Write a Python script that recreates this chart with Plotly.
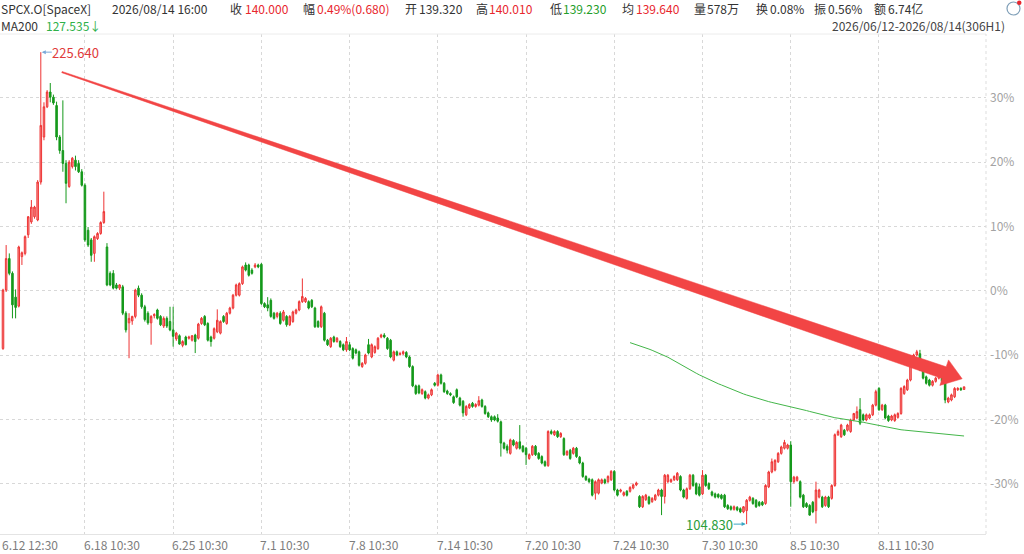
import math
import numpy as np
import pandas as pd
import plotly.graph_objects as go

# price that the right hand axis calls 0%
base_price = 164.6

opens = [
    -9.0, 0.1, 5.0, 2.7, -1.0, -2.4, 5.3, 5.8, 8.7, 10.7,
    11.5, 11.0, 16.9, 23.9, 28.6, 30.9, 30.1, 28.8, 23.9, 21.8,
    19.8, 16.2, 19.3, 20.3, 19.8, 18.5, 16.4, 9.4, 7.9, 5.8,
    8.1, 8.9, 10.6, 6.8, 2.7, 2.7, 0.9, 0.4, 0.6, -3.5,
    -5.0, -4.7, -4.0, 0.4, -0.7, -2.5, -3.5, -5.0, -3.9, -3.0,
    -4.0, -5.5, -4.3, -4.8, -6.1, -7.5, -7.0, -8.5, -7.2, -7.4,
    -7.7, -6.9, -7.4, -5.1, -4.0, -5.1, -7.2, -7.4, -6.4, -6.6,
    -4.0, -5.1, -3.5, -2.7, -0.7, -0.7, 1.1, 4.0, 4.0, 3.2,
    3.7, 4.0, 4.1, -2.0, -2.2, -1.5, -3.5, -4.0, -3.5, -4.6,
    -4.0, -5.3, -4.8, -3.5, -3.0, -1.7, -1.7, -1.7, -1.5, -2.7,
    -4.8, -5.6, -3.5, -7.7, -8.7, -7.2, -7.9, -7.9, -8.4, -9.2,
    -8.4, -9.0, -9.2, -9.5, -11.8, -11.3, -8.4, -10.3, -9.6, -9.0,
    -7.2, -6.9, -7.4, -7.7, -10.8, -9.5, -9.9, -9.8, -9.6, -10.3,
    -11.8, -14.8, -14.8, -16.0, -15.7, -16.7, -16.2, -14.4, -14.7, -13.1,
    -14.4, -15.6, -16.0, -16.5, -15.4, -16.7, -17.2, -19.3, -18.2, -17.5,
    -18.0, -17.8, -17.0, -18.0, -19.0, -19.6, -19.6, -19.8, -20.4, -23.7,
    -24.2, -25.3, -23.3, -24.5, -23.5, -24.2, -24.5, -26.1, -25.5, -24.2,
    -25.3, -25.8, -26.6, -27.2, -21.9, -22.4, -21.9, -22.7, -23.0, -25.5,
    -24.8, -25.3, -24.5, -25.9, -26.8, -28.9, -29.3, -29.4, -31.5, -31.5,
    -29.9, -29.4, -29.7, -29.4, -28.1, -31.0, -31.2, -31.8, -31.2, -31.2,
    -30.7, -30.2, -32.0, -33.6, -32.5, -32.1, -32.8, -32.5, -31.8, -31.0,
    -32.0, -29.7, -29.7, -29.4, -29.4, -28.9, -31.0, -32.3, -30.8, -28.7,
    -30.0, -30.5, -31.6, -28.7, -30.0, -31.3, -31.6, -31.7, -31.8, -31.8,
    -33.4, -33.6, -34.0, -33.7, -33.9, -34.4, -34.2, -32.6, -32.3, -32.6,
    -32.9, -32.9, -33.1, -30.5, -28.2, -27.9, -26.6, -25.3, -24.5, -24.5,
    -24.0, -29.7, -29.5, -29.7, -31.8, -33.1, -33.4, -32.9, -34.2, -32.1,
    -32.1, -33.4, -32.1, -32.3, -30.3, -22.4, -22.7, -21.7, -21.7, -21.9,
    -20.1, -19.8, -18.5, -19.3, -20.1, -19.8, -19.3, -17.8, -15.2, -18.5,
    -17.8, -19.5, -20.1, -20.2, -19.7, -19.1, -16.0, -15.4, -13.9, -11.3,
    -10.0, -9.8, -12.3, -13.4, -13.9, -14.7, -14.1, -13.6, -12.8, -14.1,
    -17.3, -17.0, -16.5, -15.4, -15.2, -15.36,
]
highs = [
    0.3, 7.1, 5.8, 3.0, 0.2, 7.0, 6.1, 8.6, 11.6, 14.1,
    13.2, 17.2, 37.1, 29.3, 31.2, 32.3, 30.5, 29.4, 24.2, 29.6,
    20.3, 20.3, 20.8, 21.0, 20.3, 18.9, 16.7, 9.9, 8.2, 8.6,
    9.1, 10.8, 15.4, 7.4, 3.0, 3.2, 1.2, 1.0, 0.9, -3.2,
    -3.5, -3.9, 0.3, 0.8, -0.4, -2.2, -3.2, -3.8, -3.5, -2.8,
    -3.8, -4.0, -4.0, -2.5, -2.5, -6.4, -6.8, -7.7, -7.0, -7.0,
    -6.9, -6.7, -5.0, -4.1, -3.8, -4.9, -7.0, -5.7, -2.9, -4.6,
    -3.8, -3.3, -2.5, -0.5, 1.1, 1.3, 3.9, 4.4, 4.2, 3.5,
    4.3, 4.2, 4.3, -1.8, -1.0, -1.2, -3.3, -3.3, -3.2, -3.0,
    -3.8, -3.8, -3.1, -2.8, -1.5, 1.9, -1.0, -1.5, -1.3, -2.5,
    -4.6, -2.3, -3.3, -7.5, -7.2, -7.0, -7.2, -7.7, -8.2, -7.2,
    -8.0, -8.8, -9.0, -9.3, -11.1, -9.8, -7.5, -8.2, -8.5, -7.2,
    -6.7, -6.6, -7.2, -7.5, -9.3, -9.3, -9.5, -9.3, -9.4, -10.1,
    -11.6, -14.6, -14.6, -15.2, -15.5, -16.0, -15.2, -14.2, -12.9, -12.9,
    -14.2, -15.4, -15.8, -16.3, -15.2, -16.5, -17.0, -17.8, -17.5, -17.3,
    -17.5, -16.4, -16.8, -17.8, -18.8, -19.4, -19.4, -19.2, -20.2, -23.5,
    -23.9, -23.0, -23.1, -23.4, -20.9, -24.0, -24.3, -25.3, -24.0, -24.0,
    -25.1, -25.6, -26.4, -21.7, -21.6, -21.7, -21.7, -22.0, -22.8, -24.8,
    -24.6, -24.3, -24.3, -25.7, -26.6, -28.7, -29.1, -29.2, -29.5, -29.2,
    -29.2, -29.2, -28.7, -27.9, -27.9, -30.8, -30.8, -31.2, -31.0, -30.4,
    -30.0, -29.7, -31.8, -31.8, -31.6, -31.9, -32.1, -31.6, -30.8, -30.8,
    -28.5, -28.5, -29.2, -28.7, -28.2, -28.7, -30.8, -30.6, -28.5, -28.5,
    -29.8, -30.0, -27.9, -28.5, -29.8, -31.1, -31.4, -31.5, -31.6, -31.6,
    -33.2, -33.4, -33.4, -33.5, -33.7, -33.5, -32.4, -31.9, -32.1, -32.4,
    -32.7, -32.7, -30.1, -28.0, -26.1, -26.2, -25.1, -24.1, -23.2, -23.8,
    -23.4, -28.8, -28.8, -29.5, -31.6, -32.9, -33.2, -32.7, -29.7, -30.8,
    -31.9, -31.9, -31.9, -30.1, -22.2, -21.6, -20.7, -21.5, -20.7, -19.9,
    -19.0, -18.0, -16.7, -19.1, -19.1, -19.1, -17.6, -15.4, -15.0, -17.6,
    -17.6, -19.3, -19.3, -19.1, -18.9, -15.0, -14.7, -13.7, -11.1, -9.8,
    -9.2, -9.2, -12.1, -13.2, -13.7, -13.9, -13.4, -12.6, -12.6, -13.9,
    -16.5, -16.0, -15.0, -15.0, -15.0, -14.94,
]
lows = [
    -9.2, -0.2, 2.4, -4.3, -4.3, -2.6, 4.0, 5.5, 8.2, 10.4,
    11.2, 10.8, 16.5, 23.4, 28.4, 29.3, 28.9, 23.4, 21.3, 18.5,
    13.6, 16.0, 19.0, 18.7, 18.3, 16.2, 7.6, 6.8, 4.5, 4.5,
    7.9, 8.7, 10.4, 0.7, 0.7, 0.2, 0.2, 0.1, -3.8, -6.5,
    -10.5, -5.3, -4.3, -1.0, -2.8, -4.8, -5.3, -8.4, -4.3, -4.5,
    -5.5, -5.8, -5.8, -6.3, -8.7, -7.8, -8.4, -8.8, -8.5, -7.6,
    -7.9, -9.7, -7.6, -5.3, -5.5, -7.9, -8.7, -7.6, -6.6, -6.8,
    -5.0, -5.3, -3.7, -2.9, -0.9, -0.9, 0.9, 3.0, 2.2, 2.5,
    3.5, 3.5, -2.2, -2.7, -3.2, -4.2, -4.5, -4.3, -5.3, -4.8,
    -5.6, -5.5, -5.0, -3.7, -3.2, -1.9, -1.9, -2.9, -2.7, -5.8,
    -5.8, -5.8, -7.9, -8.6, -8.9, -8.1, -8.1, -8.9, -9.4, -9.5,
    -9.4, -10.7, -9.9, -11.8, -12.0, -11.5, -9.9, -10.5, -9.8, -9.2,
    -7.4, -7.4, -9.2, -10.5, -11.0, -10.2, -10.1, -10.0, -10.5, -12.0,
    -15.0, -16.2, -16.1, -16.2, -16.9, -16.9, -16.4, -14.9, -14.9, -14.6,
    -15.9, -16.2, -16.4, -17.6, -16.7, -18.0, -19.6, -19.5, -18.4, -18.2,
    -18.2, -18.0, -18.2, -19.3, -19.8, -20.4, -20.3, -20.5, -25.8, -24.7,
    -25.3, -25.5, -24.2, -24.7, -24.7, -25.2, -27.1, -26.3, -25.7, -25.7,
    -26.3, -27.0, -27.4, -27.4, -22.4, -22.6, -22.9, -22.9, -25.7, -25.7,
    -26.3, -25.5, -26.0, -27.0, -29.1, -29.6, -29.9, -32.0, -32.5, -31.7,
    -30.1, -30.1, -29.9, -29.6, -31.2, -32.0, -31.4, -32.0, -32.0, -31.4,
    -30.9, -30.4, -33.8, -33.8, -32.7, -33.3, -33.0, -32.7, -32.0, -34.9,
    -33.1, -29.9, -29.9, -29.6, -29.6, -31.2, -32.3, -32.5, -31.0, -30.5,
    -31.8, -32.0, -31.8, -30.5, -31.0, -32.0, -32.3, -32.3, -32.5, -33.8,
    -34.1, -34.2, -34.2, -34.3, -34.6, -34.6, -36.3, -32.8, -33.3, -33.8,
    -33.6, -33.5, -33.3, -30.7, -28.4, -28.1, -26.8, -25.5, -24.7, -24.7,
    -33.6, -30.0, -29.7, -32.3, -33.8, -33.8, -35.0, -34.6, -36.2, -32.3,
    -33.8, -33.6, -33.8, -32.5, -30.5, -22.6, -22.9, -22.6, -21.9, -22.1,
    -20.3, -20.0, -20.9, -20.3, -20.3, -20.0, -19.5, -18.0, -18.7, -18.7,
    -20.0, -20.4, -20.3, -20.4, -19.9, -19.3, -16.2, -15.6, -14.1, -11.5,
    -10.2, -12.5, -13.8, -14.6, -14.9, -14.9, -14.3, -13.8, -14.3, -17.5,
    -17.5, -17.2, -16.7, -15.6, -15.6, -15.41,
]
closes = [
    0.1, 5.0, 2.7, -2.2, -2.6, 6.8, 5.9, 8.4, 11.5, 13.0,
    13.0, 16.9, 25.7, 28.6, 30.9, 30.1, 29.2, 23.9, 21.8, 19.8,
    16.7, 20.0, 20.6, 19.3, 18.5, 16.4, 7.9, 7.1, 5.5, 8.4,
    8.9, 10.6, 12.3, 0.9, 0.9, 0.4, 0.4, 0.9, -3.5, -6.1,
    -4.3, -4.0, 0.1, -0.7, -2.5, -4.5, -5.0, -4.0, -3.7, -4.3,
    -5.3, -4.3, -5.5, -6.1, -7.1, -6.6, -8.3, -7.9, -8.4, -7.2,
    -7.0, -7.9, -5.2, -4.3, -5.3, -7.7, -7.9, -5.9, -4.6, -4.8,
    -4.8, -3.5, -2.7, -0.7, 0.9, 1.1, 3.7, 3.2, 2.4, 2.7,
    4.0, 3.7, -2.0, -2.5, -2.7, -4.0, -4.3, -3.5, -5.1, -3.3,
    -5.3, -4.0, -3.3, -3.0, -1.7, -0.9, -1.2, -2.7, -2.5, -5.6,
    -5.6, -2.5, -7.7, -8.4, -7.4, -7.9, -7.4, -8.7, -9.2, -7.9,
    -9.2, -10.5, -9.7, -11.6, -11.3, -10.0, -9.7, -8.4, -8.7, -7.4,
    -6.9, -7.2, -9.0, -10.3, -9.5, -10.0, -9.8, -9.5, -10.3, -11.8,
    -14.8, -16.0, -15.9, -15.4, -16.7, -16.2, -15.4, -14.7, -13.1, -14.4,
    -15.7, -16.0, -16.2, -17.4, -16.5, -17.8, -19.0, -18.0, -17.7, -18.0,
    -17.7, -17.1, -18.0, -19.1, -19.6, -20.1, -20.1, -20.3, -23.7, -24.5,
    -24.8, -23.2, -24.0, -23.6, -24.5, -25.0, -25.5, -25.5, -24.2, -25.5,
    -26.1, -26.8, -27.2, -21.9, -22.2, -21.9, -22.7, -22.2, -25.5, -25.0,
    -26.1, -24.5, -25.8, -26.8, -28.9, -29.4, -29.7, -31.8, -29.7, -29.4,
    -29.4, -29.9, -28.9, -28.1, -31.0, -31.8, -31.0, -31.4, -31.8, -30.6,
    -30.2, -29.9, -33.6, -32.0, -31.8, -33.1, -32.3, -31.8, -31.0, -32.0,
    -28.7, -28.7, -29.4, -28.9, -28.4, -31.0, -32.1, -30.8, -28.7, -30.3,
    -31.6, -31.8, -28.7, -30.3, -30.8, -31.8, -32.1, -32.1, -32.3, -33.6,
    -33.9, -34.0, -33.6, -34.1, -34.4, -33.6, -32.6, -32.1, -33.1, -33.6,
    -33.4, -33.3, -30.3, -28.2, -26.6, -26.4, -25.3, -24.3, -23.6, -24.0,
    -29.7, -29.0, -29.0, -32.1, -33.6, -33.6, -34.9, -34.4, -31.0, -31.0,
    -33.6, -32.1, -33.6, -30.3, -22.4, -21.9, -20.9, -22.4, -20.9, -20.1,
    -19.1, -18.8, -20.6, -20.1, -19.3, -19.3, -17.8, -15.7, -18.5, -17.8,
    -19.8, -20.2, -19.5, -19.3, -19.1, -15.2, -14.9, -13.9, -11.3, -10.0,
    -9.5, -12.3, -13.6, -14.4, -14.7, -14.1, -13.6, -12.8, -14.1, -17.0,
    -16.7, -16.2, -15.2, -15.2, -15.4, -14.95,
]
assert len(opens) == len(highs) == len(lows) == len(closes) == 306

grid_bars = [26, 54, 82, 110, 138, 166, 194, 222, 250, 278]
label_bars = [0] + grid_bars
x_labels = ["6.12 12:30", "6.18 10:30", "6.25 10:30", "7.1 10:30", "7.8 10:30",
            "7.14 10:30", "7.20 10:30", "7.24 10:30", "7.30 10:30", "8.5 10:30",
            "8.11 10:30"]
pct_ticks = [30, 20, 10, 0, -10, -20, -30]

high_bar, high_text = 12, "225.640"
low_bar, low_text = 236, "104.830"

# trend arrow: (bar, %) of tail and tip
arrow_tail = (18.7, 34.0)
arrow_tip = (304.4, -13.7)

header_row1 = [
    ("SPCX.O[SpaceX]", "dark"), ("2026/08/14 16:00", "dark"),
    ("收", "dark"), ("140.000", "red"), ("幅", "dark"), ("0.49%(0.680)", "red"),
    ("开", "dark"), ("139.320", "dark"), ("高", "dark"), ("140.010", "red"),
    ("低", "dark"), ("139.230", "green"), ("均", "dark"), ("139.640", "red"),
    ("量", "dark"), ("578万", "dark"), ("换", "dark"), ("0.08%", "dark"),
    ("振", "dark"), ("0.56%", "dark"), ("额", "dark"), ("6.74亿", "dark"),
]
header_row2 = [("MA200", "dark"), ("127.535↓", "ma")]
range_text = "2026/06/12-2026/08/14(306H1)"

# ---------------------------------------------------------------
RED = "#ee3434"
GREEN = "#15991b"
MA_GREEN = "#43b649"
DARK = "#333333"
colors = {"dark": DARK, "red": "#e8262d", "green": "#1f9e2a", "ma": "#2fb14a"}
FONT = "Noto Sans CJK SC, Noto Sans, sans-serif"

W, H = 1024, 554
PL, PR, PT, PB = 0, 986, 34, 534        # plot box in pixels
PX_BAR = 3.151                           # pixels per candle
PX_PCT = 6.43                            # pixels per 1 %
BAR0_PX = 3.0
ZERO_PX = 290.7


def price(p):
    return base_price * (1 + np.asarray(p, dtype=float) / 100.0)


def paper_x(px):
    return (px - PL) / (PR - PL)


def paper_y(py):
    return (PB - py) / (PB - PT)


idx = np.arange(len(closes))
o, h, l, c = price(opens), price(highs), price(lows), price(closes)
ma200 = pd.Series(c).rolling(200).mean()

fig = go.Figure()
fig.add_trace(go.Candlestick(
    x=idx, open=o, high=h, low=l, close=c,
    increasing=dict(line=dict(color=RED, width=1), fillcolor="rgba(238,52,52,0.55)"),
    decreasing=dict(line=dict(color=GREEN, width=1), fillcolor=GREEN),
    whiskerwidth=0, showlegend=False, hoverinfo="skip",
))
fig.add_trace(go.Scatter(
    x=idx, y=ma200, mode="lines", line=dict(color=MA_GREEN, width=1),
    showlegend=False, hoverinfo="skip",
))

# arrow polygon, worked out in screen pixels then put back on the axes
tx, ty = arrow_tail[0] * PX_BAR, -arrow_tail[1] * PX_PCT
hx, hy = arrow_tip[0] * PX_BAR, -arrow_tip[1] * PX_PCT
ln = math.hypot(hx - tx, hy - ty)
ux, uy = (hx - tx) / ln, (hy - ty) / ln
nx, ny = -uy, ux
head_len, head_half, neck_half, tail_half = 19.0, 13.5, 6.2, 0.6
bx, by = hx - ux * head_len, hy - uy * head_len
pts = [
    (tx + nx * tail_half, ty + ny * tail_half),
    (bx + nx * neck_half, by + ny * neck_half),
    (bx + nx * head_half, by + ny * head_half),
    (hx, hy),
    (bx - nx * head_half, by - ny * head_half),
    (bx - nx * neck_half, by - ny * neck_half),
    (tx - nx * tail_half, ty - ny * tail_half),
]
path = ""
for k, (px_, py_) in enumerate(pts):
    xv = px_ / PX_BAR
    yv = float(price(-py_ / PX_PCT))
    path += ("M" if k == 0 else "L") + f"{xv:.3f},{yv:.3f} "
path += "Z"

shapes = [
    dict(type="path", path=path, xref="x", yref="y", fillcolor="#f24545",
         line=dict(color="#f24545", width=0.5), layer="above"),
    dict(type="line", xref="paper", yref="paper", x0=0, x1=1, y0=1, y1=1,
         line=dict(color="#ececec", width=1)),
    dict(type="line", xref="paper", yref="paper", x0=1, x1=1, y0=0, y1=1,
         line=dict(color="#dddddd", width=1, dash="dot")),
    # small icon top right
    dict(type="circle", xref="paper", yref="paper",
         x0=paper_x(1007), x1=paper_x(1020), y0=paper_y(15), y1=paper_y(2),
         line=dict(color="#7f9fb8", width=1.2)),
    dict(type="circle", xref="paper", yref="paper",
         x0=paper_x(1017), x1=paper_x(1021.5), y0=paper_y(5), y1=paper_y(0.5),
         fillcolor="#e8262d", line=dict(color="#e8262d", width=0)),
]

ann = []
row1_x = [2, 113, 231, 246, 304, 318, 406, 420, 477, 490, 551, 564,
          623, 637, 695, 708, 757, 771, 815, 829, 875, 889]
for (txt, col), xp in zip(header_row1, row1_x):
    ann.append(dict(text=txt, x=paper_x(xp), y=paper_y(9), xref="paper", yref="paper",
                    xanchor="left", yanchor="middle", showarrow=False, borderpad=0,
                    xshift=-2, font=dict(family=FONT, size=12, color=colors[col])))
for (txt, col), xp in zip(header_row2, [2, 47]):
    ann.append(dict(text=txt, x=paper_x(xp), y=paper_y(25.5), xref="paper", yref="paper",
                    xanchor="left", yanchor="middle", showarrow=False, borderpad=0,
                    xshift=-2, font=dict(family=FONT, size=12, color=colors[col])))
ann.append(dict(text=range_text, x=paper_x(1006), y=paper_y(25.5), xref="paper", yref="paper",
                xanchor="right", yanchor="middle", showarrow=False, borderpad=0,
                font=dict(family=FONT, size=12, color="#444444")))

for b, txt in zip(label_bars, x_labels):
    ann.append(dict(text=txt, x=b, y=paper_y(544), xref="x", yref="paper",
                    xanchor="left", yanchor="middle", xshift=-2, showarrow=False,
                    borderpad=0, font=dict(family=FONT, size=12, color="#7d7d7d")))

ann.append(dict(text=high_text, x=high_bar, y=h[high_bar], xref="x", yref="y",
                ax=35, ay=0, showarrow=True, arrowhead=2, arrowsize=0.8, arrowwidth=1,
                arrowcolor="#7aa8d8", standoff=1, borderpad=0,
                font=dict(family=FONT, size=13, color="#e03a3a")))
ann.append(dict(text=low_text, x=low_bar, y=l[low_bar], xref="x", yref="y",
                ax=-37, ay=0, showarrow=True, arrowhead=2, arrowsize=0.8, arrowwidth=1,
                arrowcolor="#3aa6c4", standoff=1, borderpad=0,
                font=dict(family=FONT, size=13, color="#2a9d3a")))

x_lo = (PL - BAR0_PX) / PX_BAR
x_hi = (PR - BAR0_PX) / PX_BAR
y_hi = float(price((ZERO_PX - PT) / PX_PCT))
y_lo = float(price((ZERO_PX - PB) / PX_PCT))

fig.update_layout(
    width=W, height=H,
    margin=dict(l=PL, r=W - PR, t=PT, b=H - PB, pad=0),
    paper_bgcolor="white", plot_bgcolor="white",
    showlegend=False,
    shapes=shapes, annotations=ann,
    xaxis=dict(range=[x_lo, x_hi], tickvals=grid_bars, showticklabels=False,
               showgrid=True, gridcolor="#d8d8d8", griddash="dot", gridwidth=1,
               zeroline=False, showline=True, linecolor="#e4e4e4", linewidth=1,
               ticks="", rangeslider=dict(visible=False), fixedrange=True),
    yaxis=dict(range=[y_lo, y_hi], side="right", tickvals=list(price(pct_ticks)),
               ticktext=[f"{p}%" for p in pct_ticks], showgrid=True,
               gridcolor="#d8d8d8", griddash="dot", gridwidth=1, zeroline=False,
               ticks="", ticklabelstandoff=3, automargin=False,
               tickfont=dict(family=FONT, size=12, color="#a3a3a3")),
)

# the page body has a default 8px margin; drop it so the figure sits at 0,0
fig.write_html("out.html", config={"displayModeBar": False},
               post_script="document.body.style.margin='0';")
